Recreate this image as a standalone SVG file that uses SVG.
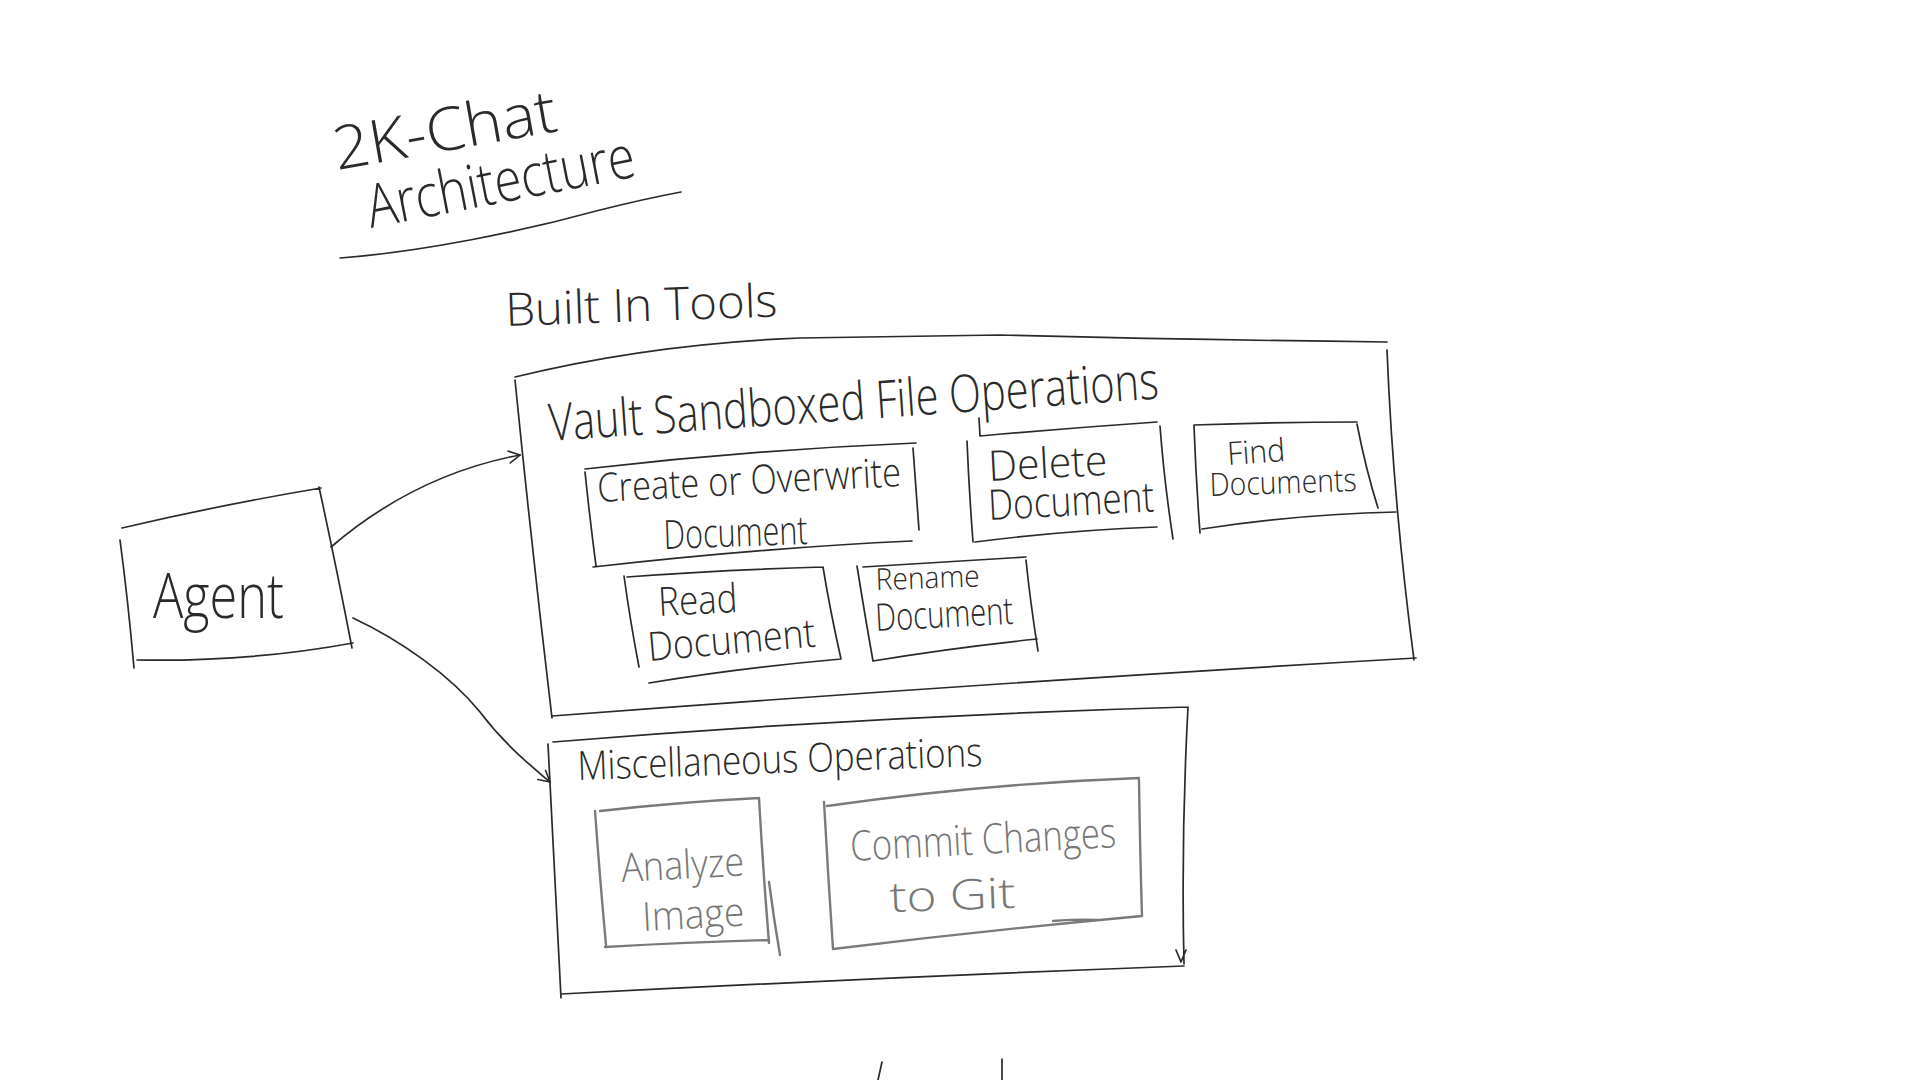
<svg xmlns="http://www.w3.org/2000/svg" width="1920" height="1080" viewBox="0 0 1920 1080">
<style>
.ln{fill:none;stroke:#2a2a2a;stroke-width:1.7;stroke-linecap:round;stroke-linejoin:round}
.gl{fill:none;stroke:#7a7a7a;stroke-width:2.4;stroke-linecap:round;stroke-linejoin:round}
.t{font-family:"Open Sans","Lato","Liberation Sans",sans-serif;fill:#2a2a2a;font-weight:300}
.tg{fill:#777}
</style>
<defs>
<marker id="ah" markerWidth="14" markerHeight="14" refX="12" refY="7" orient="auto" markerUnits="userSpaceOnUse">
<path d="M1,1 L12,7 L1,13" fill="none" stroke="#2a2a2a" stroke-width="1.6" stroke-linecap="round"/>
</marker>
</defs>
<rect width="1920" height="1080" fill="#ffffff"/>

<g id="title">
<text class="t" x="337" y="170" font-size="60" textLength="226" lengthAdjust="spacingAndGlyphs" transform="rotate(-10 337 170)">2K-Chat</text>
<text class="t" x="371" y="228" font-size="60" textLength="272" lengthAdjust="spacingAndGlyphs" transform="rotate(-11 371 228)">Architecture</text>
<path class="ln" d="M340,258 C420,252 520,232 600,210 C640,200 665,195 681,192"/>
</g>

<g id="built-in-tools">
<text class="t" x="506" y="326" font-size="46" textLength="272" lengthAdjust="spacingAndGlyphs" transform="rotate(-2 506 326)">Built In Tools</text>
</g>

<g id="agent">
<path class="ln" d="M122,528 Q220,505 321,488 M319,487 Q336,565 352,648 M353,643 Q250,662 137,660 M120,540 Q128,600 134,668"/>
<text class="t" x="153" y="618" font-size="62" textLength="131" lengthAdjust="spacingAndGlyphs">Agent</text>
</g>

<g id="vault-sandboxed-file-operations">
<path class="ln" d="M515,377 Q650,344 800,338 L1000,335 Q1200,340 1387,342 M1387,350 Q1393,500 1414,660 M1416,658 Q1000,682 552,716 M515,380 Q532,550 552,718"/>
<text class="t" x="550" y="441" font-size="52" textLength="611" lengthAdjust="spacingAndGlyphs" transform="rotate(-4 550 441)">Vault Sandboxed File Operations</text>
</g>

<g id="create-or-overwrite-document">
<path class="ln" d="M585,469 Q750,450 916,443 M913,448 Q916,490 919,530 M912,541 Q760,548 593,567 M585,472 Q590,520 596,566"/>
<text class="t" x="598" y="502" font-size="40" textLength="304" lengthAdjust="spacingAndGlyphs" transform="rotate(-3 598 502)">Create or Overwrite</text>
<text class="t" x="664" y="549" font-size="40" textLength="144" lengthAdjust="spacingAndGlyphs" transform="rotate(-2 664 549)">Document</text>
</g>

<g id="delete-document">
<path class="ln" d="M967,441 Q969,490 973,542 M980,436 Q1070,428 1157,422 M1160,426 Q1164,480 1173,539 M975,542 Q1070,530 1157,527 M980,436 L979,418"/>
<text class="t" x="989" y="481" font-size="42" textLength="119" lengthAdjust="spacingAndGlyphs" transform="rotate(-3 989 481)">Delete</text>
<text class="t" x="989" y="520" font-size="42" textLength="166" lengthAdjust="spacingAndGlyphs" transform="rotate(-3 989 520)">Document</text>
</g>

<g id="find-documents">
<path class="ln" d="M1194,426 Q1196,480 1200,533 M1194,425 Q1280,422 1357,422 M1357,424 Q1366,470 1378,508 M1202,529 Q1300,514 1396,512"/>
<text class="t" x="1228" y="465" font-size="32" textLength="58" lengthAdjust="spacingAndGlyphs" transform="rotate(-4 1228 465)">Find</text>
<text class="t" x="1210" y="496" font-size="32" textLength="147" lengthAdjust="spacingAndGlyphs" transform="rotate(-2 1210 496)">Documents</text>
</g>

<g id="read-document">
<path class="ln" d="M624,576 Q630,620 639,667 M627,577 Q720,570 823,567 M823,567 Q830,610 841,659 M841,659 Q740,668 649,683"/>
<text class="t" x="659" y="616" font-size="40" textLength="79" lengthAdjust="spacingAndGlyphs" transform="rotate(-3 659 616)">Read</text>
<text class="t" x="649" y="661" font-size="40" textLength="168" lengthAdjust="spacingAndGlyphs" transform="rotate(-5 649 661)">Document</text>
</g>

<g id="rename-document">
<path class="ln" d="M857,566 Q864,610 873,661 M863,567 Q940,562 1026,557 M1026,560 Q1030,600 1038,651 M1037,639 Q950,648 873,661"/>
<text class="t" x="876" y="590" font-size="30" textLength="104" lengthAdjust="spacingAndGlyphs" transform="rotate(-2 876 590)">Rename</text>
<text class="t" x="876" y="631" font-size="38" textLength="138" lengthAdjust="spacingAndGlyphs" transform="rotate(-3 876 631)">Document</text>
</g>

<g id="miscellaneous-operations">
<path class="ln" d="M553,742 Q870,716 1188,707 M1188,707 Q1181,840 1184,964 M1176,950 L1181,962 L1186,950 M1184,966 Q870,978 561,994 M548,744 Q554,870 561,998"/>
<text class="t" x="578" y="780" font-size="40" textLength="405" lengthAdjust="spacingAndGlyphs" transform="rotate(-2 578 780)">Miscellaneous Operations</text>
</g>

<g id="analyze-image">
<path class="gl" d="M595,811 Q600,880 606,945 M600,811 Q680,802 759,798 M759,798 Q763,870 769,943 M769,882 Q774,920 780,955 M769,940 Q690,942 605,947"/>
<text class="t tg" x="622" y="882" font-size="40" textLength="123" lengthAdjust="spacingAndGlyphs" transform="rotate(-3 622 882)">Analyze</text>
<text class="t tg" x="643" y="931" font-size="40" textLength="102" lengthAdjust="spacingAndGlyphs" transform="rotate(-3 643 931)">Image</text>
</g>

<g id="commit-changes-to-git">
<path class="gl" d="M824,802 Q828,875 833,949 M827,806 Q980,784 1139,778 M1139,780 Q1140,850 1142,916 M1142,916 Q990,930 833,949 M1053,921 Q1080,919 1098,920"/>
<text class="t tg" x="851" y="861" font-size="42" textLength="266" lengthAdjust="spacingAndGlyphs" transform="rotate(-3 851 861)">Commit Changes</text>
<text class="t tg" x="890" y="912" font-size="42" textLength="126" lengthAdjust="spacingAndGlyphs" transform="rotate(-2 890 912)">to Git</text>
</g>

<g id="connectors">
<path class="ln" d="M331,547 C380,505 440,470 520,455" marker-end="url(#ah)"/>
<path class="ln" d="M353,618 C400,640 450,675 480,712 C505,745 530,765 550,782" marker-end="url(#ah)"/>
</g>

<g id="marks">
<path class="ln" d="M882,1062 L878,1080 M1002,1059 L1002,1080"/>
</g>
</svg>
